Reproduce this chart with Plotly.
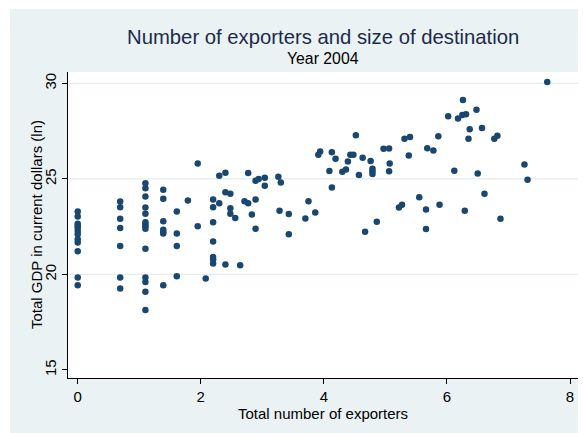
import plotly.graph_objects as go

# ---- data ----
exporters = [
    0, 0, 0, 0, 0, 0, 0, 0, 0, 0, 0, 0,
    0.69, 0.69, 0.69, 0.69, 0.69, 0.69, 0.69,
    1.10, 1.10, 1.10, 1.10, 1.10, 1.10, 1.10, 1.10, 1.10, 1.10, 1.10, 1.10, 1.10, 1.10,
    1.39, 1.39, 1.39, 1.39, 1.39, 1.39, 1.39,
    1.61, 1.61, 1.61, 1.61,
    1.79,
    1.95, 1.95,
    2.08,
    2.20, 2.20, 2.20, 2.20, 2.20, 2.20, 2.20,
    2.30, 2.30,
    2.40, 2.40, 2.40,
    2.48, 2.48, 2.48,
    2.56, 2.64, 2.71,
    2.77, 2.77,
    2.83,
    2.89, 2.89, 2.89,
    2.94,
    3.04, 3.04,
    3.26, 3.28, 3.30,
    3.43, 3.43,
    3.70, 3.75, 3.86, 3.91, 3.94,
    4.09, 4.13, 4.13, 4.19, 4.30, 4.36, 4.39, 4.43, 4.48, 4.52, 4.57, 4.63, 4.67,
    4.76, 4.79, 4.79, 4.79, 4.86, 4.97, 5.06, 5.06, 5.07, 5.22, 5.27, 5.31, 5.38,
    5.40, 5.55, 5.66, 5.66, 5.68, 5.78, 5.86, 5.88, 6.02, 6.12, 6.18, 6.25, 6.26,
    6.29, 6.31, 6.35, 6.37, 6.48, 6.50, 6.57, 6.61, 6.77, 6.82, 6.87, 7.26, 7.31,
    7.63,
]
gdp = [
    23.30, 23.04, 22.66, 22.55, 22.45, 22.27, 22.10, 21.84, 21.67, 21.21, 19.84, 19.43,
    23.82, 23.52, 22.92, 22.43, 21.49, 19.84, 19.27,
    24.77, 24.51, 24.08, 23.51, 23.18, 22.74, 22.62, 22.52, 22.40, 21.35, 19.84, 19.61, 19.09, 18.14,
    24.44, 23.96, 22.78, 22.34, 22.22, 22.14, 19.44,
    23.30, 22.14, 21.49, 19.91,
    23.87,
    25.81, 22.53,
    19.79,
    23.92, 23.52, 22.74, 21.73, 20.92, 20.78, 20.57,
    25.17, 23.73,
    24.30, 25.33, 20.52,
    24.22, 23.47, 23.18,
    22.95, 20.48, 23.83,
    25.31, 23.73,
    23.14,
    24.91, 23.92, 22.40,
    25.00,
    25.07, 24.65,
    25.12, 23.33, 24.81,
    23.16, 22.10,
    22.93, 23.83, 23.24, 26.27, 26.44,
    25.42, 26.40, 24.55, 26.06, 25.38, 25.50, 25.92, 26.27, 26.27, 27.29, 25.21, 26.11, 22.24,
    25.94, 25.54, 25.40, 25.26, 22.76, 26.58, 26.59, 25.40, 25.81, 23.51, 23.65, 27.10, 26.23,
    27.20, 24.04, 23.40, 22.38, 26.61, 26.49, 27.24, 23.65, 28.28, 25.43, 28.16, 28.35, 29.13,
    23.33, 28.39, 27.11, 27.60, 28.63, 25.29, 27.67, 24.22, 27.11, 27.26, 22.92, 25.76, 24.96,
    30.08,
]
x_ticks = [0, 2, 4, 6, 8]
y_ticks = [15, 20, 25, 30]
grid_values = [20, 25, 30]

FONT = "Liberation Sans, Arial, sans-serif"
BG = "#EAF2F3"
GRID = "#E3ECEE"
MARKER = "#1a476f"

fig = go.Figure()
fig.add_trace(go.Scatter(
    x=exporters, y=gdp, mode="markers",
    marker=dict(color=MARKER, size=6.5, line=dict(width=0)),
    hoverinfo="x+y", showlegend=False,
))

shapes = []
# white strips outside the Stata graph region (left, top, right)
shapes.append(dict(type="rect", xref="paper", yref="paper", x0=-0.2, x1=-0.1137, y0=-0.3, y1=1.3,
                   fillcolor="white", line=dict(width=0), layer="below"))
shapes.append(dict(type="rect", xref="paper", yref="paper", x0=-0.2, x1=1.1, y0=1.206, y1=1.3,
                   fillcolor="white", line=dict(width=0), layer="below"))
shapes.append(dict(type="rect", xref="paper", yref="paper", x0=1.0, x1=1.1, y0=-0.3, y1=1.3,
                   fillcolor="white", line=dict(width=0), layer="below"))
for g in grid_values:
    shapes.append(dict(type="line", xref="paper", yref="y", x0=0, x1=1, y0=g, y1=g,
                       line=dict(color=GRID, width=1.2), layer="below"))

fig.update_layout(
    width=583, height=433,
    margin=dict(l=68, r=5, t=72, b=55, pad=0),
    paper_bgcolor=BG, plot_bgcolor="white",
    font=dict(family=FONT, size=15, color="black"),
    shapes=shapes,
    xaxis=dict(range=[-0.158, 8.13], tickvals=x_ticks, ticks="outside", ticklen=5,
               tickcolor="black", tickwidth=1, showline=True, linecolor="black", linewidth=1,
               showgrid=False, zeroline=False, tickfont=dict(size=15, family=FONT, color="black")),
    yaxis=dict(range=[14.58, 30.60], tickvals=y_ticks, ticks="outside", ticklen=5,
               tickcolor="black", tickwidth=1, showline=True, linecolor="black", linewidth=1,
               showgrid=False, zeroline=False, tickangle=-90,
               tickfont=dict(size=15, family=FONT, color="black")),
    annotations=[
        dict(text="Number of exporters and size of destination", xref="paper", yref="paper",
             x=0.5, y=(378 - 37) / 306, xanchor="center", yanchor="middle", showarrow=False,
             font=dict(size=20.3, family=FONT, color="#1c2b4c")),
        dict(text="Year 2004", xref="paper", yref="paper",
             x=0.5, y=(378 - 59) / 306, xanchor="center", yanchor="middle", showarrow=False,
             font=dict(size=15.8, family=FONT, color="black")),
        dict(text="Total number of exporters", xref="paper", yref="paper",
             x=0.5, y=(378 - 413) / 306, xanchor="center", yanchor="middle", showarrow=False,
             font=dict(size=15, family=FONT, color="black")),
        dict(text="Total GDP in current dollars (ln)", xref="paper", yref="paper",
             x=(36 - 68) / 510, y=0.5, xanchor="center", yanchor="middle", showarrow=False,
             textangle=-90, font=dict(size=15, family=FONT, color="black")),
    ],
)

fig.write_html("out.html")
